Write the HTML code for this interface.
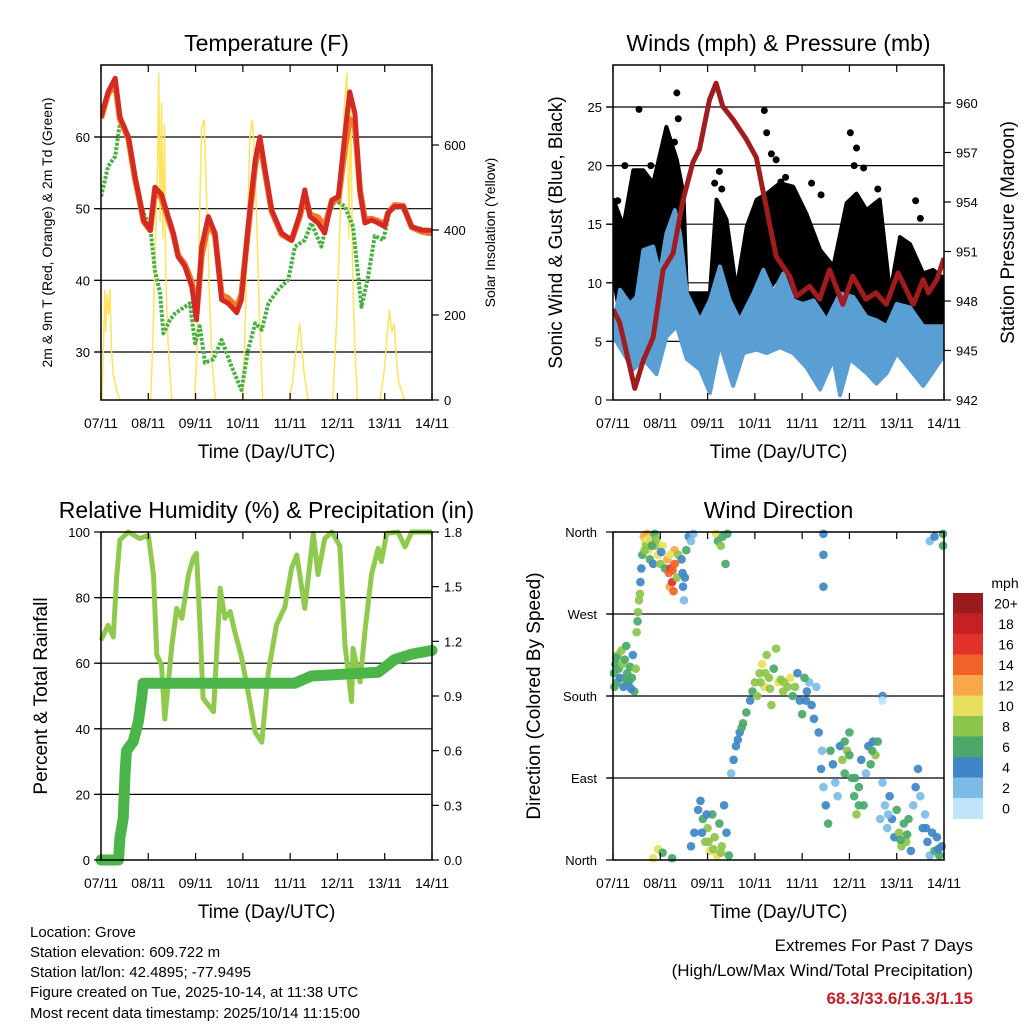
<!DOCTYPE html>
<html><head><meta charset="utf-8"><style>
html,body{margin:0;padding:0;background:#fff;}
svg{display:block;font-family:"Liberation Sans",Arial,sans-serif;}
</style></head><body>
<svg id="c" width="1024" height="1024" viewBox="0 0 1024 1024">
<rect width="1024" height="1024" fill="#fff"/>
<g id="g"></g>
<g font-size="15" fill="#000">
<text x="30" y="937">Location: Grove</text>
<text x="30" y="957">Station elevation: 609.722 m</text>
<text x="30" y="977">Station lat/lon: 42.4895; -77.9495</text>
<text x="30" y="997">Figure created on Tue, 2025-10-14, at 11:38 UTC</text>
<text x="30" y="1018">Most recent data timestamp: 2025/10/14 11:15:00</text>
</g>
<g text-anchor="end">
<text x="973" y="951" font-size="17">Extremes For Past 7 Days</text>
<text x="973" y="976" font-size="17">(High/Low/Max Wind/Total Precipitation)</text>
<text x="973" y="1004" font-size="17" font-weight="bold" fill="#c4202a">68.3/33.6/16.3/1.15</text>
</g>
</svg>
<script>
// ---------- data ----------
const dayLabels=["07/11","08/11","09/11","10/11","11/11","12/11","13/11","14/11"];
const tempT=[0,0.15,0.3,0.4,0.58,0.72,0.82,0.9,1.04,1.14,1.28,1.53,1.63,1.77,1.92,2.02,2.13,2.27,2.41,2.55,2.69,2.87,2.97,3.11,3.26,3.36,3.47,3.61,3.82,4.03,4.21,4.31,4.42,4.59,4.73,4.88,5.02,5.16,5.26,5.37,5.48,5.58,5.72,5.86,6.0,6.07,6.21,6.39,6.57,6.78,6.92,7.0];
const tempRed=[62.8,66.3,68.2,62.8,60,54.5,51.2,48.4,47,53,52,46.6,43.3,42,39.1,34.5,44.7,48.9,46.6,37.3,36.8,35.5,37.3,47.5,56.8,60,55.4,49.8,46.6,45.6,49.4,52.6,48.9,48,46.6,51.2,51.7,60.5,66.3,63.3,52.2,48,48.4,48,47.5,49.4,50.3,50.3,47.5,47,47,47];
const tempOrange=[62.6,66,67.5,62.5,59.8,54.2,51,48.2,47,52.5,51.5,46.4,43.5,42.3,39.8,35.2,43.5,48,46.3,38,37.5,36.3,38,47,56,59.5,55,49.6,46.4,45.6,49,52,49.2,48.8,47.5,51,51.3,58.5,62.5,61.5,52.5,48.5,48.6,48.3,47.8,49.4,50.5,50.4,47.4,46.8,46.6,46.6];
const dewT=[0,0.15,0.3,0.4,0.51,0.65,0.79,0.93,1.04,1.14,1.25,1.32,1.46,1.57,1.77,1.88,1.99,2.09,2.2,2.38,2.55,2.76,2.97,3.11,3.26,3.4,3.54,3.75,3.96,4.1,4.31,4.45,4.66,4.8,4.95,5.16,5.33,5.44,5.51,5.65,5.79,5.97,6.11,6.36,6.57,6.92,7.0];
const dewVals=[51.7,55.9,57.3,61.9,61.4,56.8,51.7,48.9,47.5,41.4,38.2,32.6,34.5,35.4,36.3,36.8,31.2,33.6,28.5,29,31.7,28,24.7,30.3,34,33.1,36.8,38.7,40.1,44.7,45.6,48,44.7,48.9,51.2,50.3,47.5,40.6,36.3,40.6,46.2,45.6,49.8,50.3,47.5,47,47];
const solarT=[0.02,0.05,0.08,0.1,0.13,0.16,0.19,0.22,0.26,0.3,0.34,0.4, 1.05,1.1,1.15,1.2,1.22,1.25,1.28,1.31,1.34,1.37,1.4,1.44,1.5, 1.98,2.03,2.08,2.13,2.18,2.22,2.26,2.3,2.35,2.42, 3.0,3.05,3.1,3.15,3.2,3.25,3.3,3.35,3.42, 3.98,4.05,4.1,4.15,4.2,4.25,4.3,4.38, 4.9,4.98,5.05,5.1,5.15,5.2,5.24,5.28,5.32,5.36,5.42, 5.9,5.98,6.05,6.1,6.15,6.2,6.25,6.3,6.42];
const solarVals=[0,120,260,160,250,200,260,120,60,40,20,0, 0,150,380,560,770,420,700,380,650,300,180,90,0, 0,120,420,640,660,520,380,220,90,0, 0,180,420,620,660,560,400,200,0, 0,40,100,130,181,120,60,0, 0,180,400,560,700,770,380,720,300,150,0, 0,60,150,212,160,180,90,40,0];
const windHiT=[0.01,0.15,0.36,0.5,0.64,0.85,0.99,1.13,1.31,1.42,1.56,1.84,2.05,2.26,2.47,2.68,2.97,3.18,3.39,3.6,3.81,4.02,4.24,4.52,4.8,5.08,5.36,5.57,5.79,6.0,6.28,6.56,6.77,6.95,7.0];
const windHi=[6.3,9.4,8.2,8.8,12.8,13.1,10.8,14.2,16.2,14.2,9.1,6.8,8.5,11.4,8.5,6.8,9.1,11.1,9.1,10.8,8.5,8.2,8.5,6.8,9.1,8.8,7.1,6.8,6.3,8.2,7.9,6.3,6.3,6.3,6.3];
const windLoT=[0.01,0.22,0.43,0.64,0.92,1.13,1.35,1.56,1.84,2.05,2.26,2.54,2.76,3.04,3.25,3.53,3.81,4.09,4.38,4.66,4.8,5.01,5.36,5.57,5.79,6.0,6.28,6.56,6.95,7.0];
const windLo=[5.4,4,2.6,3.5,2.2,5.4,6.3,3.5,2.6,0.6,4.8,1.2,4,4.3,4,4.5,4,2.8,0.9,3.5,0.4,3.5,2.3,1.4,2.3,4,2.6,1.2,3.5,3.5];
const gustHiT=[0.01,0.22,0.43,0.64,0.85,1.13,1.35,1.49,1.56,1.84,2.05,2.19,2.4,2.61,2.83,3.04,3.25,3.53,3.81,4.09,4.38,4.66,4.94,5.15,5.36,5.64,5.86,6.07,6.28,6.56,6.77,6.95,7.0];
const gustHi=[17.1,14.8,19.6,19.6,18.5,23.3,20.5,17.6,9.1,9.1,9.1,17.1,15.4,9.4,14.8,17.1,17.6,18.5,18.2,15.9,12.8,11.4,16.8,17.6,16.2,17.1,9.1,13.9,13.3,10.8,11.1,10.5,10.5];
const gustLoT=[0.01,0.22,0.43,0.64,0.92,1.13,1.35,1.56,1.84,2.05,2.19,2.54,2.83,3.25,3.53,3.81,4.09,4.38,4.66,4.8,5.08,5.36,5.57,5.86,6.07,6.35,6.56,6.95,7.0];
const gustLo=[10.5,5.4,6.8,4.8,5.4,10.5,11.4,6.3,5.1,4,9.1,2.2,8.2,9.1,10.8,8.5,7.5,6.3,4.8,3.5,7.5,6.8,6.3,5.7,6.8,6.3,4,6.6,6.6];
const gustOutT=[0.1,0.25,0.5,0.55,0.8,1.0,1.1,1.3,1.35,1.38,2.15,2.25,2.3,3.2,3.25,3.35,3.45,3.55,3.65,4.2,4.4,5.02,5.1,5.15,5.3,5.6,6.4,6.5];
const gustOutV=[17,20,19,24.8,20,20.5,22,22,26.2,24,18.5,19.5,18,24.7,22.8,21,20.5,18.6,19,18.5,17.5,22.8,20,21.5,19.8,18,17,15.5];
const presT=[0,0.14,0.46,0.64,0.85,1.06,1.27,1.48,1.69,1.83,2.04,2.18,2.32,2.54,2.82,3.03,3.24,3.45,3.74,3.88,4.16,4.37,4.58,4.86,5.07,5.35,5.56,5.78,6.03,6.35,6.56,6.67,6.85,7.0];
const presVals=[947.5,946.7,942.7,944.4,945.8,949.9,950.9,954.1,956.4,957.2,960.2,961.2,959.8,959,957.8,956.7,953.7,950.7,949.5,948.3,948.9,948.1,949.9,947.8,949.5,948.1,948.5,947.8,949.7,947.8,949.3,948.5,949.3,950.6];
const rhT=[0,0.15,0.26,0.33,0.4,0.58,0.82,1.0,1.11,1.18,1.28,1.35,1.5,1.6,1.71,1.85,1.95,2.02,2.09,2.16,2.38,2.52,2.62,2.73,2.83,2.97,3.11,3.26,3.4,3.54,3.71,3.89,4.03,4.14,4.31,4.49,4.59,4.73,4.88,5.05,5.16,5.3,5.33,5.48,5.58,5.72,5.86,5.93,6.04,6.28,6.43,6.57,6.92,7.0];
const rhVals=[67,71.6,68,85.9,97.6,100,98,99,87,62.5,59.5,43,65.5,76.7,73.7,87,92,93.5,72.7,49.3,45.2,82.9,73.7,75.8,69.6,62,51.2,39,35.9,57.4,71.6,77.2,89,93,76.7,99.6,87,98,100,95.8,65.5,48.3,64.5,54.3,69.6,87,95,91,99.6,100,95.5,100,100,100];
const rainT=[0,0.37,0.4,0.47,0.51,0.54,0.68,0.79,0.86,0.89,4.1,4.45,5.86,6.21,6.57,7.0];
const rainVals=[0,0,0.12,0.23,0.48,0.6,0.65,0.76,0.89,0.97,0.97,1.01,1.03,1.1,1.13,1.15];
const dirObs=[[0.02,205,6],[0.05,215,7],[0.08,195,6],[0.1,225,8],[0.12,210,7],[0.15,200,5],[0.18,230,8],[0.2,215,8],[0.22,190,5],[0.25,220,7],[0.28,235,7],[0.3,205,6],[0.33,195,4],[0.36,212,6],[0.4,200,7],[0.42,225,4],[0.45,185,6],[0.48,210,8],[0.03,190,6],[0.07,222,7],[0.27,198,6],[0.38,188,5],
[0.5,250,8],[0.52,262,7],[0.55,285,8],[0.57,292,8],[0.53,272,8],
[0.58,305,4],[0.6,320,4],[0.62,335,6],[0.65,355,12],[0.68,350,10],[0.7,345,8],[0.72,358,12],[0.75,340,10],[0.78,330,6],[0.8,350,4],[0.85,325,4],[0.88,358,6],[0.9,345,8],[0.95,335,10],[1.0,325,8],[1.05,345,10],[1.1,320,6],[0.67,340,9],[0.74,352,10],[0.82,345,6],[0.92,352,9],[1.02,338,4],
[1.15,330,12],[1.18,315,14],[1.2,300,13],[1.22,320,16],[1.25,305,17],[1.28,295,14],[1.3,340,12],[1.32,325,10],[1.35,310,8],[1.38,335,9],[1.2,335,11],[1.26,318,15],[1.3,325,14],
[1.45,330,4],[1.48,300,4],[1.5,285,3],[1.55,340,6],[1.6,355,4],[1.65,350,3],[1.7,358,3],[1.47,315,4],[1.52,310,5],
[2.18,358,10],[2.22,350,6],[2.28,345,8],[2.32,355,7],[2.38,325,6],[2.42,358,6],
[0.85,2,10],[0.95,12,10],[1.05,8,6],[1.25,2,6],[1.65,15,4],[1.72,30,4],[1.8,55,4],[1.85,65,4],[1.9,45,6],[1.95,20,8],[2.0,35,9],[2.05,10,10],[2.1,50,7],[2.15,25,8],[2.2,5,10],[2.25,40,6],[2.3,15,8],[2.35,60,4],[2.4,30,4],[2.45,5,6],[1.88,30,4],[2.02,20,8],[2.12,12,9],[2.28,8,8],[1.98,50,4],
[2.5,95,3],[2.55,110,4],[2.6,125,4],[2.68,140,5],[2.75,150,6],[2.82,162,6],[2.9,175,5],[2.64,132,4],[2.72,145,6],
[2.95,185,6],[3.0,195,8],[3.05,180,9],[3.1,205,8],[3.15,215,10],[3.2,190,10],[3.25,225,8],[3.3,200,9],[3.35,170,8],[3.4,210,7],[3.5,195,10],[3.6,185,8],[3.7,190,8],[3.8,180,7],[3.9,205,4],[3.95,175,5],[4.0,160,6],[4.1,185,4],[4.15,195,2],[4.2,170,4],[4.25,155,5],[4.3,190,3],[3.45,232,8],[3.55,198,9],[3.75,200,10],[4.05,200,6],[3.12,195,8],[3.22,205,9],[3.32,188,8],[3.62,195,9],[3.85,190,8],[4.08,175,4],
[4.45,358,4],[4.45,335,4],[4.45,300,4],
[4.35,140,4],[4.4,100,4],[4.45,80,2],[4.5,60,4],[4.55,40,6],[4.6,120,6],[4.65,105,4],[4.7,85,2],[4.75,70,3],[4.8,125,4],[4.85,110,8],[4.9,95,6],[4.95,120,8],[5.0,140,6],[5.05,90,6],[5.1,70,6],[5.15,50,8],[5.2,80,6],[5.25,110,4],[5.3,60,6],[5.35,95,3],[5.4,125,4],[5.45,105,6],[5.5,130,4],[5.55,115,8],[5.6,130,6],[5.65,45,2],[5.7,85,2],[5.7,180,4],[5.7,175,1],[4.42,120,2],[4.9,130,6],[5.0,115,6],[5.12,90,6],[5.2,60,6],[5.48,120,6],
[5.75,60,2],[5.8,35,2],[5.85,70,4],[5.9,45,4],[5.95,25,4],[6.0,55,6],[6.05,30,8],[6.1,15,8],[6.15,40,6],[6.2,20,8],[6.25,45,6],[6.3,10,4],[6.35,60,2],[6.4,80,4],[6.45,100,4],[6.5,70,2],[6.55,35,4],[6.6,50,2],[6.65,20,4],[6.7,5,2],[6.75,30,4],[6.8,10,6],[6.85,25,4],[6.9,5,6],[6.95,15,4],[5.82,50,2],[6.08,22,7],[6.22,28,7],[6.62,35,4],[6.88,12,5],
[6.7,350,2],[6.8,355,4],[6.98,358,6],[6.98,345,6]];
const speedLabels=["0","2","4","6","8","10","12","14","16","18","20+"];
const speedColors=["#c0e5f8","#7dbbe6","#3e86c5","#4aa86a","#8dc44b","#e8e05e","#f8a84a","#ef6329","#e0312a","#c42026","#9a1b1e"];

// ---------- helpers ----------
const NS="http://www.w3.org/2000/svg";
const G=document.getElementById('g');
function mk(tag,attrs,parent){const e=document.createElementNS(NS,tag);for(const k in attrs)e.setAttribute(k,attrs[k]);(parent||G).appendChild(e);return e;}
function lin(d0,d1,r0,r1){return v=>r0+(v-d0)*(r1-r0)/(d1-d0);}
function pts(T,V,x,y){return T.map((t,i)=>x(t).toFixed(1)+','+y(V[i]).toFixed(1)).join(' ');}

function panel(o){
  const x=lin(0,7,o.x0,o.x1);
  o.grid.forEach(v=>{const l=mk('line',{x1:o.x0-6,x2:o.x1,y1:o.yl(v),y2:o.yl(v),stroke:'#000','stroke-width':1.2});
    });
  return x;
}
function frame(o,x){
  const f=mk('rect',{x:o.x0,y:o.y0,width:o.x1-o.x0,height:o.y1-o.y0,fill:'none',stroke:'#000','stroke-width':1.5});
  
  dayLabels.forEach((lab,i)=>{
    const px=x(i);
    mk('line',{x1:px,x2:px,y1:o.y1,y2:o.y1-7,stroke:'#000','stroke-width':1.2});
    mk('line',{x1:px,x2:px,y1:o.y0,y2:o.y0+7,stroke:'#000','stroke-width':1.2});
    const t=mk('text',{x:px,y:o.y1+28,'font-size':14,'text-anchor':'middle'});
    t.textContent=lab;
  });
  const xt=mk('text',{x:(o.x0+o.x1)/2,y:o.y1+58,'font-size':19,'text-anchor':'middle'});
  xt.textContent='Time (Day/UTC)';
  const tt=mk('text',{x:(o.x0+o.x1)/2,y:o.y0-14,'font-size':23,'text-anchor':'middle'});
  tt.textContent=o.title;
  o.lt.forEach((v,i)=>{const py=o.yl(v);
    mk('line',{x1:o.x0-7,x2:o.x0,y1:py,y2:py,stroke:'#000','stroke-width':1.2});
    const t=mk('text',{x:o.x0-(o.lpad||11),y:py+5,'font-size':13,'text-anchor':'end'});
    t.textContent=o.ll[i];});
  if(o.rt)o.rt.forEach((v,i)=>{const py=o.yr(v);
    mk('line',{x1:o.x1,x2:o.x1+7,y1:py,y2:py,stroke:'#000','stroke-width':1.2});
    const t=mk('text',{x:o.x1+12,y:py+5,'font-size':13});
    t.textContent=o.rl[i];});
  const cy=(o.y0+o.y1)/2;
  const lyt=mk('text',{x:o.lx,y:cy,'font-size':o.lfs,'text-anchor':'middle',transform:`rotate(-90 ${o.lx} ${cy})`});
  lyt.textContent=o.ltitle;
  if(o.rtitle){const ryt=mk('text',{x:o.rx,y:cy,'font-size':o.rfs,'text-anchor':'middle',transform:`rotate(-90 ${o.rx} ${cy})`});
  ryt.textContent=o.rtitle;}
}

// ---------- Temperature ----------
const P1={name:'temperature',x0:101,x1:432,y0:65,y1:400,title:'Temperature (F)',
 yl:lin(30,60,352,137),yr:lin(0,600,400,145),grid:[30,40,50,60],
 lt:[30,40,50,60],ll:["30","40","50","60"],rt:[0,200,400,600],rl:["0","200","400","600"],
 lx:52,lfs:14,ltitle:'2m & 9m T (Red, Orange) & 2m Td (Green)',rx:495,rfs:14,rtitle:'Solar Insolation (Yellow)'};
let x1=panel(P1);
let cl=mk('clipPath',{id:'cp1'});mk('rect',{x:101,y:65,width:331,height:335},cl);
let g1=mk('g',{'clip-path':'url(#cp1)'});
let e;
e=mk('polyline',{points:pts(solarT,solarVals,x1,P1.yr),fill:'none',stroke:'#ffe35a','stroke-width':1.5},g1);

e=mk('polyline',{points:pts(dewT,dewVals,x1,P1.yl),fill:'none',stroke:'#4caf45','stroke-width':4,'stroke-dasharray':'3 1.5','stroke-linejoin':'round'},g1);

e=mk('polyline',{points:pts(tempT,tempOrange,x1,P1.yl),fill:'none',stroke:'#f07a28','stroke-width':6,'stroke-linejoin':'round'},g1);

e=mk('polyline',{points:pts(tempT,tempRed,x1,P1.yl),fill:'none',stroke:'#d42a24','stroke-width':5,'stroke-linejoin':'round'},g1);

frame(P1,x1);

// ---------- Winds ----------
const P2={name:'winds',x0:613,x1:944,y0:65,y1:400,title:'Winds (mph) & Pressure (mb)',
 yl:lin(0,25,400,107),yr:lin(942,960,400,103),grid:[5,10,15,20,25],
 lt:[0,5,10,15,20,25],ll:["0","5","10","15","20","25"],rt:[942,945,948,951,954,957,960],rl:["942","945","948","951","954","957","960"],
 lx:562,lfs:19,ltitle:'Sonic Wind & Gust (Blue, Black)',rx:1014,rfs:19,rtitle:'Station Pressure (Maroon)'};
let x2=panel(P2);
cl=mk('clipPath',{id:'cp2'});mk('rect',{x:613,y:65,width:331,height:335},cl);
let g2=mk('g',{'clip-path':'url(#cp2)'});
function band(Th,hi,Tl,lo,x,y,fill,name,parent){
  const top=Th.map((t,i)=>x(t).toFixed(1)+','+y(hi[i]).toFixed(1));
  const bot=Tl.map((t,i)=>x(t).toFixed(1)+','+y(lo[i]).toFixed(1)).reverse();
  const b=mk('polygon',{points:top.concat(bot).join(' '),fill:fill,stroke:fill,'stroke-width':4,'stroke-linejoin':'round'},parent);
  
}
band(gustHiT,gustHi,gustLoT,gustLo,x2,P2.yl,'#000','gust-band',g2);
gustOutT.forEach((t,i)=>{const c=mk('circle',{cx:x2(t),cy:P2.yl(gustOutV[i]),r:3.5,fill:'#000'},g2);
  });
band(windHiT,windHi,windLoT,windLo,x2,P2.yl,'#5a9fd4','sonic-wind-band',g2);
e=mk('polyline',{points:pts(presT,presVals,x2,P2.yr),fill:'none',stroke:'#a01c1e','stroke-width':5,'stroke-linejoin':'round'},g2);

frame(P2,x2);

// ---------- RH & Precip ----------
const P3={name:'humidity',x0:101,x1:432,y0:532,y1:860,title:'Relative Humidity (%) & Precipitation (in)',
 yl:lin(0,100,860,532),yr:lin(0,1.8,860,532),grid:[20,40,60,80],
 lt:[0,20,40,60,80,100],ll:["0","20","40","60","80","100"],rt:[0,0.3,0.6,0.9,1.2,1.5,1.8],rl:["0.0","0.3","0.6","0.9","1.2","1.5","1.8"],
 lx:47,lfs:19,ltitle:'Percent & Total Rainfall'};
let x3=panel(P3);
cl=mk('clipPath',{id:'cp3'});mk('rect',{x:90,y:528,width:352,height:340},cl);
let g3=mk('g',{'clip-path':'url(#cp3)'});
e=mk('polyline',{points:pts(rhT,rhVals,x3,P3.yl),fill:'none',stroke:'#8fca4e','stroke-width':5,'stroke-linejoin':'round'},g3);

e=mk('polyline',{points:pts(rainT,rainVals,x3,P3.yr),fill:'none',stroke:'#4bb54a','stroke-width':11,'stroke-linejoin':'round','stroke-linecap':'round'},g3);

frame(P3,x3);

// ---------- Wind Direction ----------
const P4={name:'wind-direction',x0:613,x1:944,y0:532,y1:860,title:'Wind Direction',
 yl:lin(0,360,860,532),grid:[90,180,270],
 lt:[0,90,180,270,360],ll:["North","East","South","West","North"],lpad:16,
 lx:540,lfs:19,ltitle:'Direction (Colored By Speed)'};
let x4=panel(P4);
function spdColor(s){return speedColors[Math.min(10,Math.floor(s/2))];}
dirObs.forEach(d=>{const c=mk('circle',{cx:x4(d[0]),cy:P4.yl(d[1]),r:4.3,fill:spdColor(d[2]),'fill-opacity':0.92});
  });
frame(P4,x4);

// ---------- Colorbar ----------
const cbTop=593,cbH=20.5;
const mt=mk('text',{x:1005,y:588,'font-size':14,'text-anchor':'middle'});
mt.textContent='mph';
for(let i=0;i<speedLabels.length;i++){
  const idx=speedLabels.length-1-i, y=cbTop+i*cbH;
  const r=mk('rect',{x:953,y:y,width:30,height:cbH+0.5,fill:speedColors[idx]});
  
  const t=mk('text',{x:1006,y:y+cbH/2+5,'font-size':14,'text-anchor':'middle'});
  t.textContent=speedLabels[idx];
}
</script>
</body></html>
